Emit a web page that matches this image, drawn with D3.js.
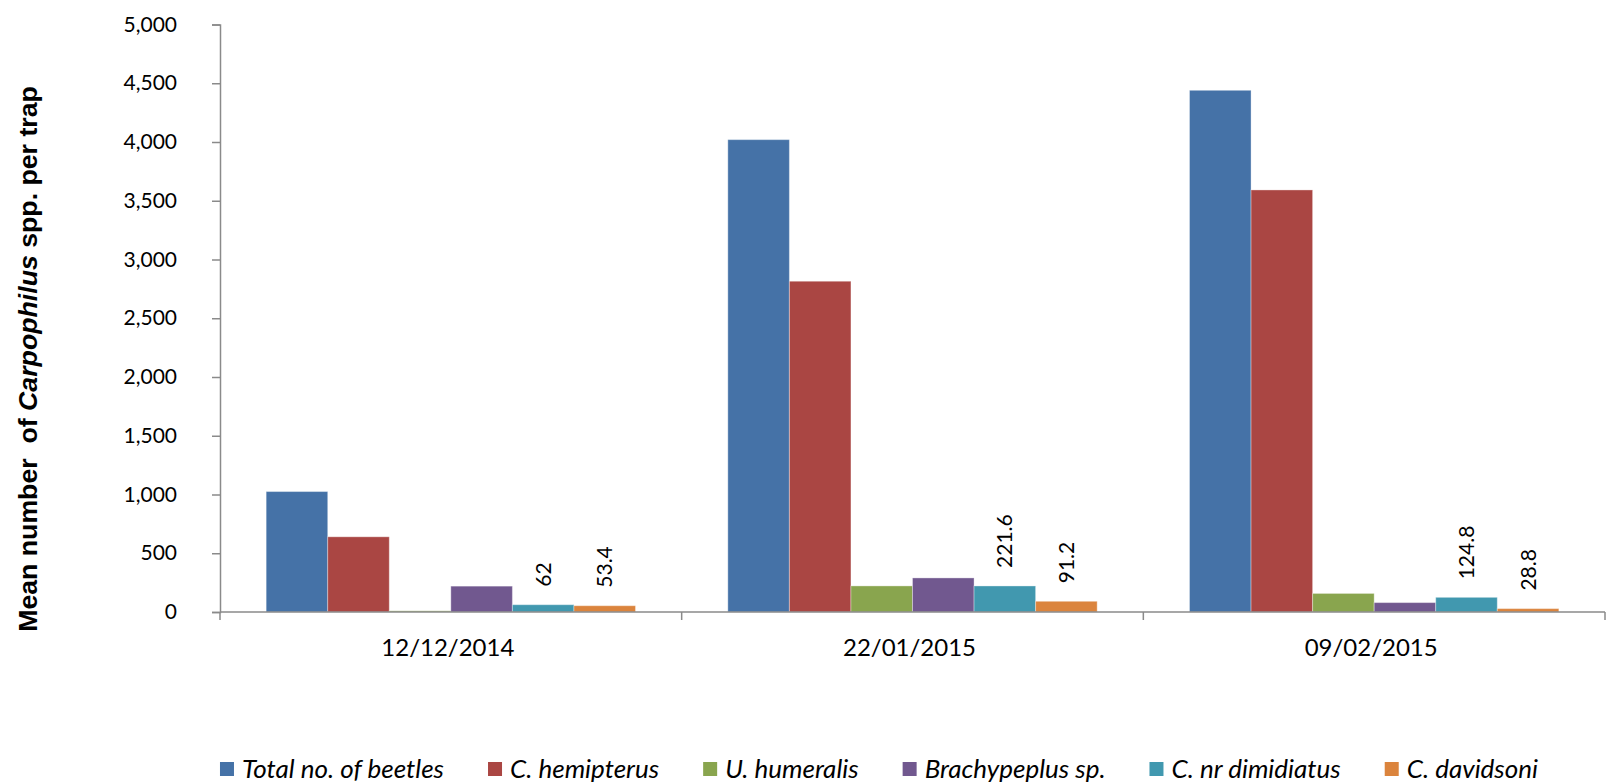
<!DOCTYPE html>
<html>
<head>
<meta charset="utf-8">
<script src="https://cdn.jsdelivr.net/npm/d3@7/dist/d3.min.js"></script>
<style>
  html, body { margin: 0; padding: 0; background: #fff; }
  svg { display: block; }
</style>
</head>
<body>
<svg id="chart" width="1609" height="784"></svg>
<script>
// Sampling dates (x categories)
const dates = ["12/12/2014", "22/01/2015", "09/02/2015"];

// Series names (legend order)
const seriesNames = ["Total no. of beetles", "C. hemipterus", "U. humeralis",
                     "Brachypeplus sp.", "C. nr dimidiatus", "C. davidsoni"];

// Mean number of beetles per trap, one array per series
const totalBeetles   = [1025, 4020, 4440];
const cHemipterus    = [640, 2815, 3592];
const uHumeralis     = [10, 222, 158];
const brachypeplus   = [220, 290, 80];
const cNrDimidiatus  = [62, 221.6, 124.8];
const cDavidsoni     = [53.4, 91.2, 28.8];

// Series that carry a value label above their bars
const labelledSeries = ["C. nr dimidiatus", "C. davidsoni"];

// Y axis ticks
const yTicks = [0, 500, 1000, 1500, 2000, 2500, 3000, 3500, 4000, 4500, 5000];

const seriesValues = [totalBeetles, cHemipterus, uHumeralis, brachypeplus, cNrDimidiatus, cDavidsoni];
const colors = ["#4572A7", "#AA4643", "#89A54E", "#71588F", "#4198AF", "#DB843D"];

const svg = d3.select("#chart");
const plot = { left: 220, right: 1605, top: 24.5, bottom: 612 };

const x0 = d3.scaleBand().domain(dates).range([plot.left, plot.right]).padding(0);
const bw = x0.bandwidth();
const x1 = d3.scaleBand().domain(seriesNames).range([bw * 0.1, bw * 0.9]).padding(0);
const y = d3.scaleLinear().domain([0, 5000]).range([plot.bottom, plot.top]);
const color = d3.scaleOrdinal().domain(seriesNames).range(colors);

const axisColor = "#8a8a8a";
const numFont = "Lato, 'Open Sans', sans-serif";

// Bars
const rows = [];
dates.forEach((d, i) => {
  seriesNames.forEach((s, j) => rows.push({ date: d, series: s, value: seriesValues[j][i] }));
});

svg.append("g").selectAll("rect")
  .data(rows)
  .join("rect")
  .attr("x", d => x0(d.date) + x1(d.series))
  .attr("y", d => y(d.value))
  .attr("width", x1.bandwidth())
  .attr("height", d => y(0) - y(d.value))
  .attr("fill", d => color(d.series))
  .attr("stroke", "#ffffff")
  .attr("stroke-opacity", 0.35)
  .attr("stroke-width", 1);

// Value labels, rotated, above bars
svg.append("g").selectAll("text")
  .data(rows.filter(r => labelledSeries.includes(r.series)))
  .join("text")
  .attr("transform", d => {
    const cx = x0(d.date) + x1(d.series) + x1.bandwidth() / 2;
    return `translate(${cx + 7.5},${y(d.value) - 18}) rotate(-90)`;
  })
  .attr("text-anchor", "start")
  .attr("font-family", numFont)
  .attr("font-size", 21)
  .attr("fill", "#000")
  .text(d => d.value);

// Y axis
const yAxis = svg.append("g")
  .attr("transform", `translate(${plot.left},0)`)
  .call(d3.axisLeft(y).tickValues(yTicks).tickFormat(d3.format(",")).tickSize(8).tickPadding(35));
yAxis.select(".domain").attr("stroke", axisColor).attr("stroke-width", 1.5);
yAxis.selectAll(".tick line").attr("stroke", axisColor).attr("stroke-width", 1.5);
yAxis.selectAll(".tick text").attr("font-family", numFont).attr("font-size", 21).attr("fill", "#000");

// X axis: baseline with category-boundary ticks and date labels
const xAxis = svg.append("g").attr("transform", `translate(0,${plot.bottom})`);
xAxis.append("line")
  .attr("x1", plot.left).attr("x2", plot.right)
  .attr("stroke", axisColor).attr("stroke-width", 1.5);
const bounds = dates.map(d => x0(d)).concat([plot.right]);
xAxis.selectAll(".bound")
  .data(bounds)
  .join("line")
  .attr("class", "bound")
  .attr("x1", d => d).attr("x2", d => d)
  .attr("y1", 0).attr("y2", 8)
  .attr("stroke", axisColor).attr("stroke-width", 1.5);
xAxis.selectAll(".cat")
  .data(dates)
  .join("text")
  .attr("class", "cat")
  .attr("x", d => x0(d) + bw / 2 - 3)
  .attr("y", 44)
  .attr("text-anchor", "middle")
  .attr("font-family", numFont)
  .attr("font-size", 24)
  .attr("fill", "#000")
  .text(d => d);

// Y axis title
const title = svg.append("text")
  .attr("transform", "translate(37,359) rotate(-90)")
  .attr("text-anchor", "middle")
  .attr("font-family", "'Liberation Sans', Arial, sans-serif")
  .attr("font-weight", "bold")
  .attr("font-size", 26.7)
  .attr("fill", "#000")
  .style("white-space", "pre");
title.append("tspan").text("Mean number  of ");
title.append("tspan").attr("font-style", "italic").text("Carpophilus");
title.append("tspan").text(" spp. per trap");

// Legend laid out in one row, centred
const legend = svg.append("g").attr("transform", "translate(0,769)");
const items = legend.selectAll("g")
  .data(seriesNames)
  .join("g");
items.append("rect")
  .attr("y", -7).attr("width", 14).attr("height", 14)
  .attr("fill", d => color(d));
items.append("text")
  .attr("x", 22)
  .attr("y", 9)
  .attr("font-family", numFont)
  .attr("font-style", "italic")
  .attr("font-size", 26)
  .attr("fill", "#000")
  .text(d => d);
let cursor = 0;
const offsets = [];
items.each(function () {
  const w = 22 + this.querySelector("text").getComputedTextLength();
  offsets.push(cursor);
  cursor += w + 44;
});
const legendWidth = cursor - 44;
const legendStart = 879 - legendWidth / 2;
items.attr("transform", (d, i) => `translate(${legendStart + offsets[i]},0)`);
</script>
</body>
</html>
